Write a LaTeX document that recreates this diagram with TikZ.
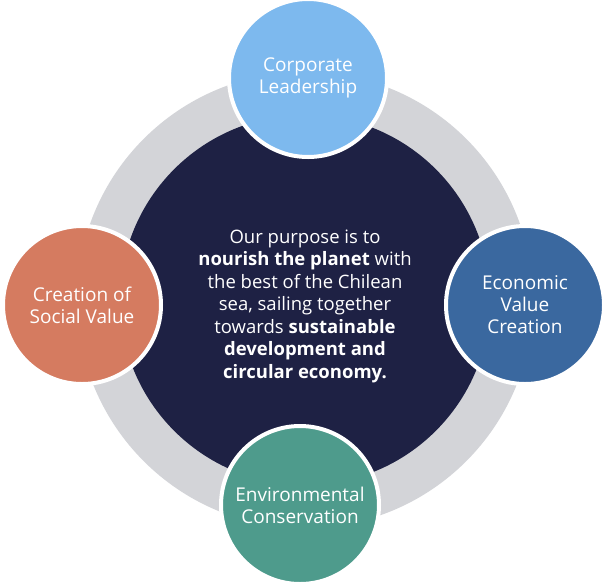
\documentclass[tikz,border=0pt]{standalone}
\usepackage{fontspec}
\setmainfont{Open Sans}
\usetikzlibrary{positioning}
\definecolor{ringgray}{HTML}{D3D4D8}
\definecolor{core}{HTML}{1E2144}
\definecolor{leadblue}{HTML}{7DB9EE}
\definecolor{econblue}{HTML}{3A689F}
\definecolor{envgreen}{HTML}{4E9B8C}
\definecolor{socred}{HTML}{D57B60}
\tikzset{
  pillar/.style={circle, draw=white, line width=4pt, minimum size=158pt,
    text=white, align=center, font=\fontsize{19}{22}\selectfont, inner sep=0pt}
}
\begin{document}
\begin{tikzpicture}[x=1pt, y=-1pt]
\useasboundingbox (0,0) rectangle (607,587);

% ring and core
\fill[ringgray] (305,300) circle (228);
\node[circle, fill=core, minimum size=370pt, inner sep=0pt] (core) at (305,300) {};
\node[text=white, align=center, font=\fontsize{18.5}{22.5}\selectfont] (purpose) at (305,306)
  {Our purpose is to\\ \textbf{nourish the planet} with\\ the best of the Chilean\\
   sea, sailing together\\ towards \textbf{sustainable}\\ \textbf{development and}\\
   \textbf{circular economy.}};

% pillars
\node[pillar, fill=leadblue] (lead) at (308,78) {Corporate\\Leadership};
\node[pillar, fill=econblue] (econ) at (525,305) {Economic\\Value\\Creation};
\node[pillar, fill=envgreen] (env) at (300,505) {Environmental\\Conservation};
\node[pillar, fill=socred] (soc) at (82,305) {Creation of\\Social Value};

\end{tikzpicture}
\end{document}
